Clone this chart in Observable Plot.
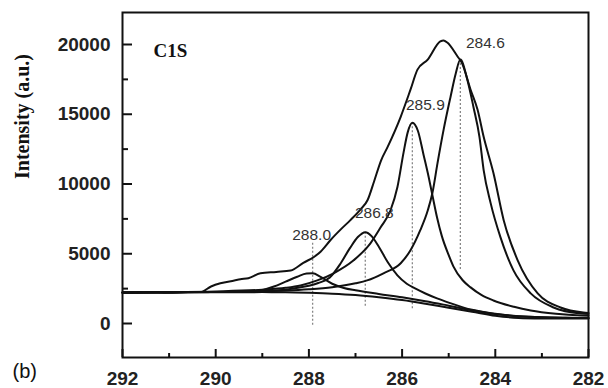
<!DOCTYPE html>
<html>
<head>
<meta charset="utf-8">
<script src="https://cdn.jsdelivr.net/npm/d3@7"></script>
<script src="https://cdn.jsdelivr.net/npm/@observablehq/plot@0.6"></script>
<style>
  html, body { margin: 0; padding: 0; background: #fff; }
  #chart svg { display: block; }
</style>
</head>
<body>
<div id="chart"></div>
<script>
// ---- data (binding energy eV, intensity a.u.) ----
const xMajor = [292, 290, 288, 286, 284, 282];
const xMinor = [291, 289, 287, 285, 283];
const yMajor = [0, 5000, 10000, 15000, 20000];
const yMinor = [2500, 7500, 12500, 17500];

const envelope = [[292,2200],[291.5,2230],[291,2200],[290.6,2250],[290.33,2250],[290.1,2650],[289.9,2880],[289.6,3080],[289.47,3170],[289.3,3250],[289.04,3600],[288.7,3700],[288.39,3800],[288.12,4350],[287.9,4750],[287.75,5150],[287.54,5970],[287.3,6800],[287.11,7410],[286.9,8150],[286.74,8850],[286.6,10200],[286.45,11700],[286.31,12660],[286.03,14820],[285.82,16760],[285.67,18200],[285.45,18920],[285.18,20220],[285.11,20290],[285.03,20140],[284.81,19140],[284.72,18700],[284.53,16760],[284.38,15320],[284.25,13380],[284.04,10790],[283.82,7410],[283.52,4530],[283.09,2160],[282.6,1150],[282.11,790],[282,760]];

const background = [[292,2230],[291,2230],[290,2240],[289,2250],[288.5,2240],[288,2200],[287.5,2140],[287,2040],[286.5,1880],[286,1680],[285.5,1420],[285,1130],[284.5,850],[284,560],[283.5,400],[283,360],[282.5,350],[282,350]];

const peak2880 = [[292,2230],[290,2250],[289.5,2270],[289.2,2300],[289,2400],[288.75,2650],[288.5,3000],[288.25,3350],[288.05,3580],[287.92,3600],[287.75,3350],[287.5,2850],[287.25,2550],[287,2380],[286.5,2120],[286,1880],[285.5,1600],[285,1280],[284.5,950],[284,680],[283.5,520],[283,440],[282.5,410],[282,400]];

const peak2868 = [[292,2230],[290,2260],[289,2330],[288.5,2420],[288.2,2580],[288,2700],[287.8,2900],[287.55,3300],[287.32,4300],[287.12,5400],[286.95,6200],[286.79,6550],[286.65,6250],[286.5,5500],[286.3,4350],[286.1,3450],[285.9,2850],[285.7,2480],[285.5,2150],[285.25,1800],[285,1500],[284.5,980],[284,700],[283.5,520],[283,440],[282.5,410],[282,400]];

const peak2859 = [[292,2230],[291,2250],[290,2300],[289,2420],[288.5,2560],[288.18,2730],[287.82,3090],[287.47,3600],[287.04,4530],[286.68,5750],[286.46,6900],[286.25,8100],[286.1,9780],[285.97,12230],[285.88,13700],[285.78,14390],[285.66,13800],[285.54,12100],[285.43,10500],[285.35,9200],[285.25,7600],[285.15,6300],[285,4900],[284.9,4100],[284.7,3100],[284.53,2590],[284.3,2050],[284.04,1650],[283.6,1200],[283.24,935],[282.7,700],[282.17,575],[282,560]];

const peak2846 = [[292,2230],[290,2260],[289,2310],[288.5,2360],[288,2450],[287.5,2600],[287,2880],[286.75,3090],[286.4,3600],[286.03,4320],[285.82,5250],[285.61,6690],[285.45,8100],[285.35,9350],[285.24,11500],[285.11,13880],[284.96,16260],[284.85,17900],[284.75,18920],[284.6,17480],[284.47,15540],[284.34,13380],[284.25,11000],[284.1,8630],[283.89,6190],[283.61,3810],[283.24,2160],[282.75,1150],[282.17,720],[282,680]];

// peak markers: centre, top and bottom of the dotted drop line, label
const peakCentre = [284.75, 285.78, 286.79, 287.92];
const dropTop    = [18920, 14390, 6550, 5750];
const dropBottom = [3810, 1000, 1150, -150];
const peakLabel  = ["284.6", "285.9", "286.8", "288.0"];
const peakApex   = [18920, 14390, 6550, 3600];

// ---- chart ----
const W = 608, H = 388;
const mL = 122, mR = 20, mT = 12, mB = 31;
const innerW = W - mL - mR, innerH = H - mT - mB;
const sans = "Liberation Sans, Arial, sans-serif";
const serif = "Liberation Serif, Times New Roman, serif";

const drops = peakCentre.map((c, i) => ({x: c, y1: dropTop[i], y2: dropBottom[i]}));
const labelOffsets = [[25, -17], [13, -18], [9, -19], [-1, -38]];

const curves = [envelope, background, peak2880, peak2868, peak2859, peak2846];

const marks = [
  Plot.ruleX(drops, {x: "x", y1: "y1", y2: "y2", stroke: "#888", strokeWidth: 1.3, strokeDasharray: "2,2"}),
  ...curves.map(c => Plot.line(c, {x: d => d[0], y: d => d[1], stroke: "#111", strokeWidth: 2, curve: "monotone-x"})),
  ...peakLabel.map((t, i) => Plot.text([t], {
    x: peakCentre[i], y: peakApex[i], text: d => d,
    dx: labelOffsets[i][0], dy: labelOffsets[i][1],
    fontSize: 15.5, fontFamily: sans, fill: "#333", textAnchor: "middle"
  })),
  Plot.tickY(yMajor, {y: d => d, insetRight: innerW - 10, stroke: "#111", strokeWidth: 2}),
  Plot.tickY(yMinor, {y: d => d, insetRight: innerW - 6, stroke: "#111", strokeWidth: 2}),
  Plot.tickX(xMajor, {x: d => d, insetTop: innerH - 8, stroke: "#111", strokeWidth: 2}),
  Plot.tickX(xMinor, {x: d => d, insetTop: innerH - 4, stroke: "#111", strokeWidth: 2}),
  Plot.axisY(yMajor, {tickSize: 0, tickPadding: 12, fontSize: 19, fontWeight: "bold", fontFamily: sans, fill: "#222", tickFormat: d => String(d), label: null}),
  Plot.axisX(xMajor, {tickSize: 0, tickPadding: 14, fontSize: 19, fontWeight: "bold", fontFamily: sans, fill: "#222", tickFormat: d => String(d), label: null}),
  Plot.frame({stroke: "#111", strokeWidth: 2}),
  Plot.text(["Intensity (a.u.)"], {frameAnchor: "left", text: d => d, rotate: -90, dx: -100, dy: -6, fontSize: 20, fontWeight: "bold", fontFamily: serif, fill: "#111"}),
  Plot.text(["C1S"], {frameAnchor: "top-left", text: d => d, dx: 31, dy: 31, textAnchor: "start", fontSize: 19, fontWeight: "bold", fontFamily: serif, fill: "#111"}),
  Plot.text(["(b)"], {frameAnchor: "bottom-left", text: d => d, dx: -110, dy: 20, textAnchor: "start", fontSize: 20, fontFamily: sans, fill: "#111"})
];

const chart = Plot.plot({
  width: W, height: H,
  marginLeft: mL, marginRight: mR, marginTop: mT, marginBottom: mB,
  style: {background: "#fff", fontFamily: sans, overflow: "visible"},
  x: {domain: [292, 282], axis: null},
  y: {domain: [-2437, 22294], axis: null},
  marks
});
document.getElementById("chart").appendChild(chart);
</script>
</body>
</html>
